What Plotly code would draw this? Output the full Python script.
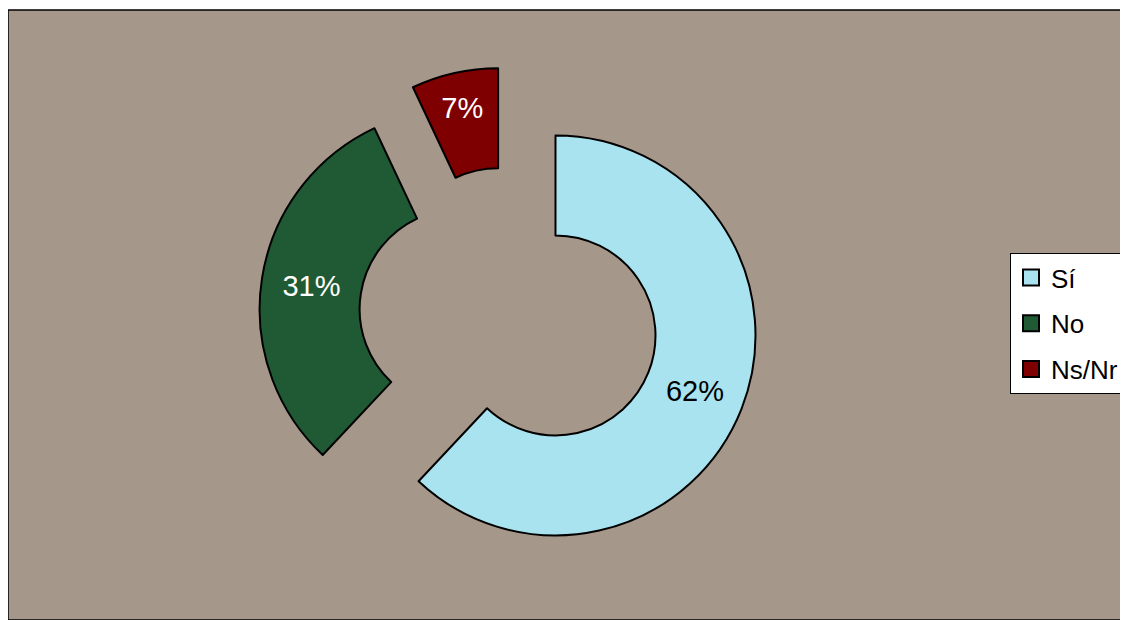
import plotly.graph_objects as go

# === Datos ===
categorias = ["Sí", "No", "Ns/Nr"]
valores = [62, 31, 7]
colores = ["#a9e3ef", "#1f5a34", "#7e0000"]
color_texto = ["black", "white", "white"]

# la página tiene 8 px de margen en el body
W, H = 1120, 612

fig = go.Figure()

fig.add_trace(go.Pie(
    labels=categorias,
    values=valores,
    hole=0.5,
    sort=False,
    direction="clockwise",
    rotation=0,
    pull=[0.25, 0.25, 0.25],
    marker=dict(colors=colores, line=dict(color="black", width=2)),
    texttemplate="%{percent:.0%}",
    textposition="inside",
    insidetextorientation="horizontal",
    insidetextfont=dict(color=color_texto, size=29, family="Liberation Sans, Arial"),
    domain=dict(x=[251 / W, 751 / W], y=[(H - 559) / H, (H - 59) / H]),
    showlegend=False,
    hoverinfo="label+percent",
))

# leyenda con cuadrados grandes (trazas vacías)
for cat, col in zip(categorias, colores):
    fig.add_trace(go.Scatter(
        x=[None], y=[None], mode="markers", name=cat,
        legendgroup=cat,
        marker=dict(symbol="square", size=18, color=col,
                    line=dict(color="black", width=2)),
    ))

# fondo tipo granito (color plano) con borde negro
fig.add_shape(type="rect", xref="paper", yref="paper",
              x0=0, x1=1.0, y0=0, y1=1 - 2 / H,
              fillcolor="#a5978a", line=dict(color="black", width=1.5),
              layer="below")

fig.update_layout(
    width=W, height=H,
    margin=dict(l=0, r=0, t=0, b=0),
    paper_bgcolor="white",
    plot_bgcolor="rgba(0,0,0,0)",
    xaxis=dict(visible=False),
    yaxis=dict(visible=False),
    showlegend=True,
    legend=dict(
        x=1002 / W, y=1 - 245 / H, xanchor="left", yanchor="top",
        bgcolor="white", bordercolor="black", borderwidth=1,
        font=dict(size=26, color="black", family="Liberation Sans, Arial"),
        tracegroupgap=9, itemwidth=30,
    ),
)

fig.write_html("out.html")
